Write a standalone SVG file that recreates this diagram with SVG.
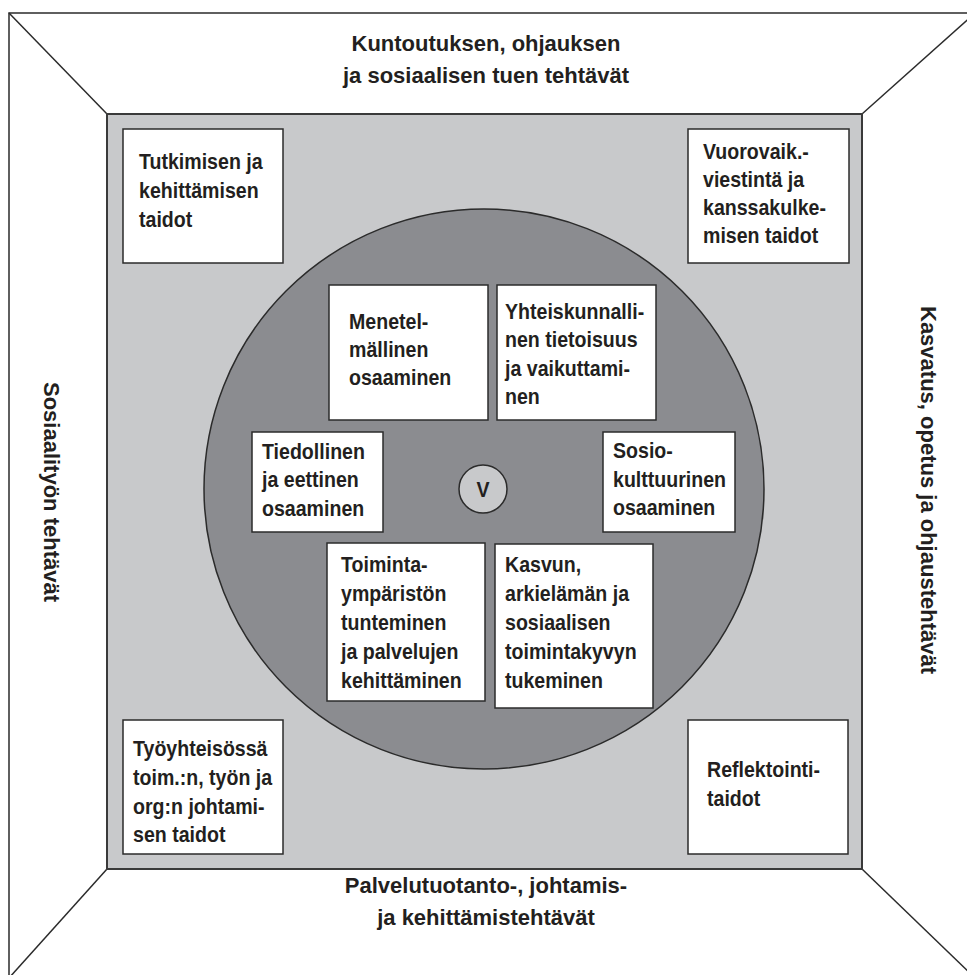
<svg xmlns="http://www.w3.org/2000/svg" width="967" height="975" viewBox="0 0 967 975">
  <style>
    .frame { fill: none; stroke: #2b2b2b; stroke-width: 1.5; }
    .band { fill: #c8c9cb; stroke: #3a3a3a; stroke-width: 2; }
    .core { fill: #8b8c90; stroke: #2b2b2b; stroke-width: 1.5; }
    .box { fill: #ffffff; stroke: #2b2b2b; stroke-width: 1.5; }
    .hub { fill: #c8c9cb; stroke: #2b2b2b; stroke-width: 1.5; }
    text { font-family: "Liberation Sans", Arial, sans-serif; font-weight: bold; fill: #231f20; }
    .t { font-size: 22px; }
    .lbl { font-size: 22px; }
    .mid { text-anchor: middle; }
  </style>

  <!-- outer frame with corner diagonals -->
  <g id="frame">
    <rect class="frame" x="9" y="13" width="966" height="965" fill="#ffffff"/>
    <line class="frame" x1="9" y1="13" x2="107" y2="114"/>
    <line class="frame" x1="975" y1="13" x2="862" y2="114"/>
    <line class="frame" x1="9" y1="978" x2="107" y2="869"/>
    <line class="frame" x1="975" y1="978" x2="862" y2="869"/>
  </g>

  <!-- side labels -->
  <g id="label-top">
    <text class="lbl mid" x="486" y="51">Kuntoutuksen, ohjauksen</text>
    <text class="lbl mid" x="486" y="83">ja sosiaalisen tuen tehtävät</text>
  </g>
  <g id="label-bottom">
    <text class="lbl mid" x="486" y="893">Palvelutuotanto-, johtamis-</text>
    <text class="lbl mid" x="486" y="925">ja kehittämistehtävät</text>
  </g>
  <g id="label-left">
    <text class="lbl mid" transform="translate(44,492) rotate(90)">Sosiaalityön tehtävät</text>
  </g>
  <g id="label-right">
    <text class="lbl mid" transform="translate(921,490) rotate(90)">Kasvatus, opetus ja ohjaustehtävät</text>
  </g>

  <!-- grey band and central circle -->
  <g id="band">
    <rect class="band" x="107" y="114" width="755" height="755"/>
  </g>
  <g id="core">
    <circle class="core" cx="484" cy="489" r="280"/>
  </g>

  <!-- corner skill boxes -->
  <g id="box-tutkimisen">
    <rect class="box" x="123" y="129" width="160" height="134"/>
    <text class="t" transform="translate(139,0) scale(0.89,1)">
      <tspan x="0" y="169">Tutkimisen ja</tspan>
      <tspan x="0" y="198">kehittämisen</tspan>
      <tspan x="0" y="227">taidot</tspan>
    </text>
  </g>
  <g id="box-vuorovaik">
    <rect class="box" x="688" y="129" width="161" height="134"/>
    <text class="t" transform="translate(703,0) scale(0.89,1)">
      <tspan x="0" y="159">Vuorovaik.-</tspan>
      <tspan x="0" y="187">viestintä ja</tspan>
      <tspan x="0" y="215">kanssakulke-</tspan>
      <tspan x="0" y="243">misen taidot</tspan>
    </text>
  </g>
  <g id="box-tyoyhteiso">
    <rect class="box" x="123" y="720" width="160" height="134"/>
    <text class="t" transform="translate(133,0) scale(0.89,1)">
      <tspan x="0" y="756">Työyhteisössä</tspan>
      <tspan x="0" y="785">toim.:n, työn ja</tspan>
      <tspan x="0" y="814">org:n johtami-</tspan>
      <tspan x="0" y="842">sen taidot</tspan>
    </text>
  </g>
  <g id="box-reflektointi">
    <rect class="box" x="688" y="720" width="160" height="134"/>
    <text class="t" transform="translate(707,0) scale(0.89,1)">
      <tspan x="0" y="777">Reflektointi-</tspan>
      <tspan x="0" y="806">taidot</tspan>
    </text>
  </g>

  <!-- competence boxes inside the circle -->
  <g id="box-menetelmallinen">
    <rect class="box" x="329" y="285" width="159" height="135"/>
    <text class="t" transform="translate(349,0) scale(0.89,1)">
      <tspan x="0" y="329">Menetel-</tspan>
      <tspan x="0" y="357">mällinen</tspan>
      <tspan x="0" y="385">osaaminen</tspan>
    </text>
  </g>
  <g id="box-yhteiskunnallinen">
    <rect class="box" x="497" y="285" width="159" height="135"/>
    <text class="t" transform="translate(505,0) scale(0.89,1)">
      <tspan x="0" y="319">Yhteiskunnalli-</tspan>
      <tspan x="0" y="347">nen tietoisuus</tspan>
      <tspan x="0" y="376">ja vaikuttami-</tspan>
      <tspan x="0" y="404">nen</tspan>
    </text>
  </g>
  <g id="box-tiedollinen">
    <rect class="box" x="252" y="432" width="131" height="100"/>
    <text class="t" transform="translate(262,0) scale(0.89,1)">
      <tspan x="0" y="459">Tiedollinen</tspan>
      <tspan x="0" y="487">ja eettinen</tspan>
      <tspan x="0" y="516">osaaminen</tspan>
    </text>
  </g>
  <g id="box-sosiokulttuurinen">
    <rect class="box" x="603" y="432" width="132" height="100"/>
    <text class="t" transform="translate(613,0) scale(0.89,1)">
      <tspan x="0" y="458">Sosio-</tspan>
      <tspan x="0" y="487">kulttuurinen</tspan>
      <tspan x="0" y="515">osaaminen</tspan>
    </text>
  </g>
  <g id="box-toimintaymparisto">
    <rect class="box" x="327" y="543" width="158" height="158"/>
    <text class="t" transform="translate(341,0) scale(0.89,1)">
      <tspan x="0" y="572">Toiminta-</tspan>
      <tspan x="0" y="601">ympäristön</tspan>
      <tspan x="0" y="630">tunteminen</tspan>
      <tspan x="0" y="659">ja palvelujen</tspan>
      <tspan x="0" y="688">kehittäminen</tspan>
    </text>
  </g>
  <g id="box-kasvun">
    <rect class="box" x="495" y="544" width="158" height="164"/>
    <text class="t" transform="translate(505,0) scale(0.89,1)">
      <tspan x="0" y="572">Kasvun,</tspan>
      <tspan x="0" y="601">arkielämän ja</tspan>
      <tspan x="0" y="630">sosiaalisen</tspan>
      <tspan x="0" y="659">toimintakyvyn</tspan>
      <tspan x="0" y="688">tukeminen</tspan>
    </text>
  </g>

  <!-- centre hub -->
  <g id="hub-v">
    <circle class="hub" cx="483" cy="489" r="24"/>
    <text class="t mid" x="483" y="497" transform="translate(483,0) scale(0.89,1) translate(-483,0)">V</text>
  </g>
</svg>
